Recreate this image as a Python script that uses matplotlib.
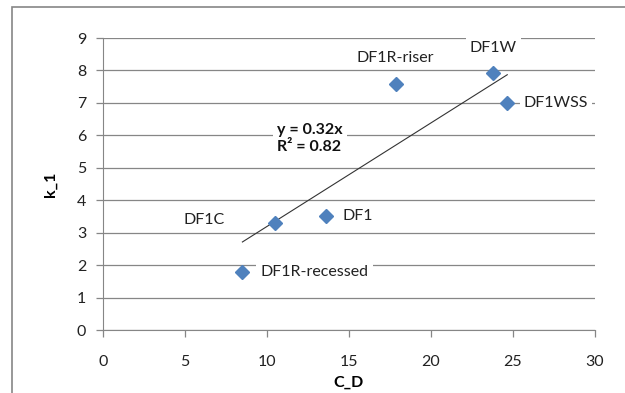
import numpy as np
import matplotlib.pyplot as plt
from matplotlib.patches import Rectangle

plt.rcParams['font.family'] = ['Lato', 'DejaVu Sans']

# data
names = ['DF1R-recessed', 'DF1C', 'DF1', 'DF1R-riser', 'DF1W', 'DF1WSS']
c_d = [8.5, 10.5, 13.6, 17.85, 23.8, 24.65]
k_1 = [1.78, 3.3, 3.5, 7.58, 7.93, 6.99]
xticks = [0, 5, 10, 15, 20, 25, 30]
yticks = [0, 1, 2, 3, 4, 5, 6, 7, 8, 9]
eq_text = 'y = 0.32x\nR² = 0.82'

# label placement (offset in points, ha, va)
lab_pos = {
    'DF1R-recessed': ((13, 0), 'left', 'center'),
    'DF1C': ((-36, 2), 'right', 'center'),
    'DF1': ((12, 0), 'left', 'center'),
    'DF1R-riser': ((0, 14), 'center', 'bottom'),
    'DF1W': ((0, 13), 'center', 'bottom'),
    'DF1WSS': ((12, 0), 'left', 'center'),
}

grey = '#868686'
fs = 11.5
fig = plt.figure(figsize=(6.25, 3.93), dpi=100)
ax = fig.add_axes([103/625, 1-330/393, 492/625, 292/393])

# outer chart border (cut off at right/bottom)
fig.patches.append(Rectangle((12/625, -0.1), 1.2, 1.1 - 7/393, transform=fig.transFigure,
                             fill=False, ec=grey, lw=1.2))

x = np.array(c_d)
y = np.array(k_1)
slope = np.sum(x*y)/np.sum(x*x)
xs = np.array([x.min(), x.max()])
ax.plot(xs, slope*xs, color='#333333', lw=0.8, zorder=3)

ax.plot(x, y, 'D', color='#4F81BD', ms=7, mec='#4F81BD', zorder=4, clip_on=False)

for n, xi, yi in zip(names, c_d, k_1):
    off, ha, va = lab_pos[n]
    ax.annotate(n, (xi, yi), xytext=off, textcoords='offset points', ha=ha, va=va,
                fontsize=fs, color='#222222', zorder=2,
                bbox=dict(fc='white', ec='none', pad=3))

ax.text(10.6, 6.38, eq_text, fontsize=fs, fontweight='bold',
        ha='left', va='top', linespacing=1.3, color='#111111', zorder=2,
        bbox=dict(fc='white', ec='none', pad=3))

ax.set_xlim(0, 30)
ax.set_ylim(0, 9)
ax.set_xticks(xticks)
ax.set_yticks(yticks)
ax.grid(axis='y', color=grey, lw=0.9)
ax.set_axisbelow(True)
for s in ['top', 'right']:
    ax.spines[s].set_visible(False)
for s in ['left', 'bottom']:
    ax.spines[s].set_color(grey)
ax.tick_params(colors=grey, labelcolor='#222222', labelsize=fs, length=5, width=0.9, pad=7)
ax.tick_params(axis='x', pad=13)
ax.set_xlabel('C_D', fontsize=fs, fontweight='bold', labelpad=5)
ax.set_ylabel('k_1', fontsize=fs, fontweight='bold', labelpad=14)

fig.savefig('out.png', dpi=100)
